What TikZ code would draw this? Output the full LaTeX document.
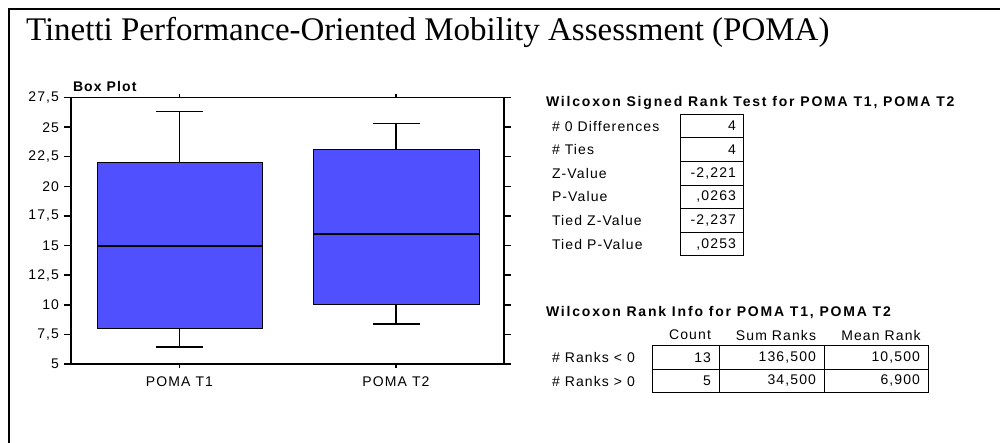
\documentclass[tikz,border=0pt]{standalone}
\usepackage{fontspec}
\setmainfont{Liberation Serif}
\newfontfamily\arialsp[LetterSpace=8]{Liberation Sans}
\newfontfamily\arialbd[LetterSpace=13]{Liberation Sans}
\definecolor{boxblue}{RGB}{80,80,255}
\begin{document}
\begin{tikzpicture}[x=1pt,y=-1pt,
  every node/.style={inner sep=0pt,outer sep=0pt},
  axis/.style={line width=1.4pt},
  boxfill/.style={fill=boxblue,draw=black,line width=1pt},
  medline/.style={line width=1.7pt},
  whisk/.style={line width=1.1pt},
  ticklab/.style={font=\arialsp\fontsize{14}{16}\selectfont,anchor=east},
  cell/.style={font=\arialsp\fontsize{14}{16}\selectfont},
  bold/.style={font=\arialbd\bfseries\fontsize{14}{16}\selectfont,anchor=west},
  grid/.style={line width=1pt}]
\useasboundingbox (0,0) rectangle (1000,443);
% outer frame
\draw[line width=2.2pt] (1000,9) -- (9,9) -- (9,443);
\node[anchor=base west,font=\fontsize{33}{38}\selectfont] (title) at (26,41) {Tinetti Performance-Oriented Mobility Assessment (POMA)};
% box plot
\node[font=\arialsp\bfseries\fontsize{14}{16}\selectfont,anchor=west] (bp) at (73,86) {Box Plot};
% boxes
\draw[boxfill] (97,163) rectangle (262,328);
\draw[medline] (97,246) -- (262,246);
\draw[whisk] (179.5,163) -- (179.5,111.7);
\draw[whisk] (156,111.7) -- (203,111.7);
\draw[whisk] (179.5,328) -- (179.5,347);
\draw[whisk] (156,347) -- (203,347);
\draw[boxfill] (313,150) rectangle (479,304);
\draw[medline] (313,233.7) -- (479,233.7);
\draw[whisk] (396,150) -- (396,123.7);
\draw[whisk] (373,123.7) -- (420,123.7);
\draw[whisk] (396,304) -- (396,324);
\draw[whisk] (373,324) -- (420,324);
% axes
\draw[axis] (71,97.7) rectangle (504,364);
\foreach \v/\l in {5/5,7.5/{7,5},10/10,12.5/{12,5},15/15,17.5/{17,5},20/20,22.5/{22,5},25/25,27.5/{27,5}}{
  \draw[axis] (64,{364-(\v-5)*11.84}) -- (71,{364-(\v-5)*11.84});
  \draw[axis] (504,{364-(\v-5)*11.84}) -- (511,{364-(\v-5)*11.84});
  \node[ticklab] at (59,{364-(\v-5)*11.84}) {\l};
}
\foreach \x in {179.5,396}{
  \draw[axis] (\x,94) -- (\x,97.7);
  \draw[axis] (\x,364) -- (\x,368);
}
\node[cell] (t1) at (179.5,382) {POMA T1};
\node[cell] (t2) at (396,382) {POMA T2};
% Wilcoxon signed rank test
\node[bold] (wt) at (546,103) {Wilcoxon Signed Rank Test for POMA T1, POMA T2};
\draw[grid] (680,114.3) rectangle (743,256);
\foreach \i/\l/\v in {0/{\# 0 Differences}/4,1/{\# Ties}/4,2/{Z-Value}/{-2,221},3/{P-Value}/{,0263},4/{Tied Z-Value}/{-2,237},5/{Tied P-Value}/{,0253}}{
  \node[cell,anchor=west] at (552,{126+\i*23.62}) {\l};
  \node[cell,anchor=east] at (736,{126+\i*23.62}) {\v};
}
\foreach \i in {1,...,5}{\draw[grid] (680,{114.3+\i*23.62}) -- (743,{114.3+\i*23.62});}
% rank info
\node[bold] (ri) at (546,312.7) {Wilcoxon Rank Info for POMA T1, POMA T2};
\node[cell] (hc) at (690,335) {Count};
\node[cell] (hs) at (776,335) {Sum Ranks};
\node[cell] (hm) at (881,335) {Mean Rank};
\draw[grid] (652.7,345.3) rectangle (928.3,392.3);
\draw[grid] (652.7,369) -- (928.3,369);
\draw[grid] (719,345.3) -- (719,392.3);
\draw[grid] (824.3,345.3) -- (824.3,392.3);
\node[cell,anchor=west] (r1) at (552,357.5) {\# Ranks < 0};
\node[cell,anchor=west] (r2) at (552,381) {\# Ranks > 0};
\node[cell,anchor=east] at (711,357.5) {13};
\node[cell,anchor=east] at (816,357.5) {136,500};
\node[cell,anchor=east] at (920,357.5) {10,500};
\node[cell,anchor=east] at (711,381) {5};
\node[cell,anchor=east] at (816,381) {34,500};
\node[cell,anchor=east] at (920,381) {6,900};
\end{tikzpicture}
\end{document}
